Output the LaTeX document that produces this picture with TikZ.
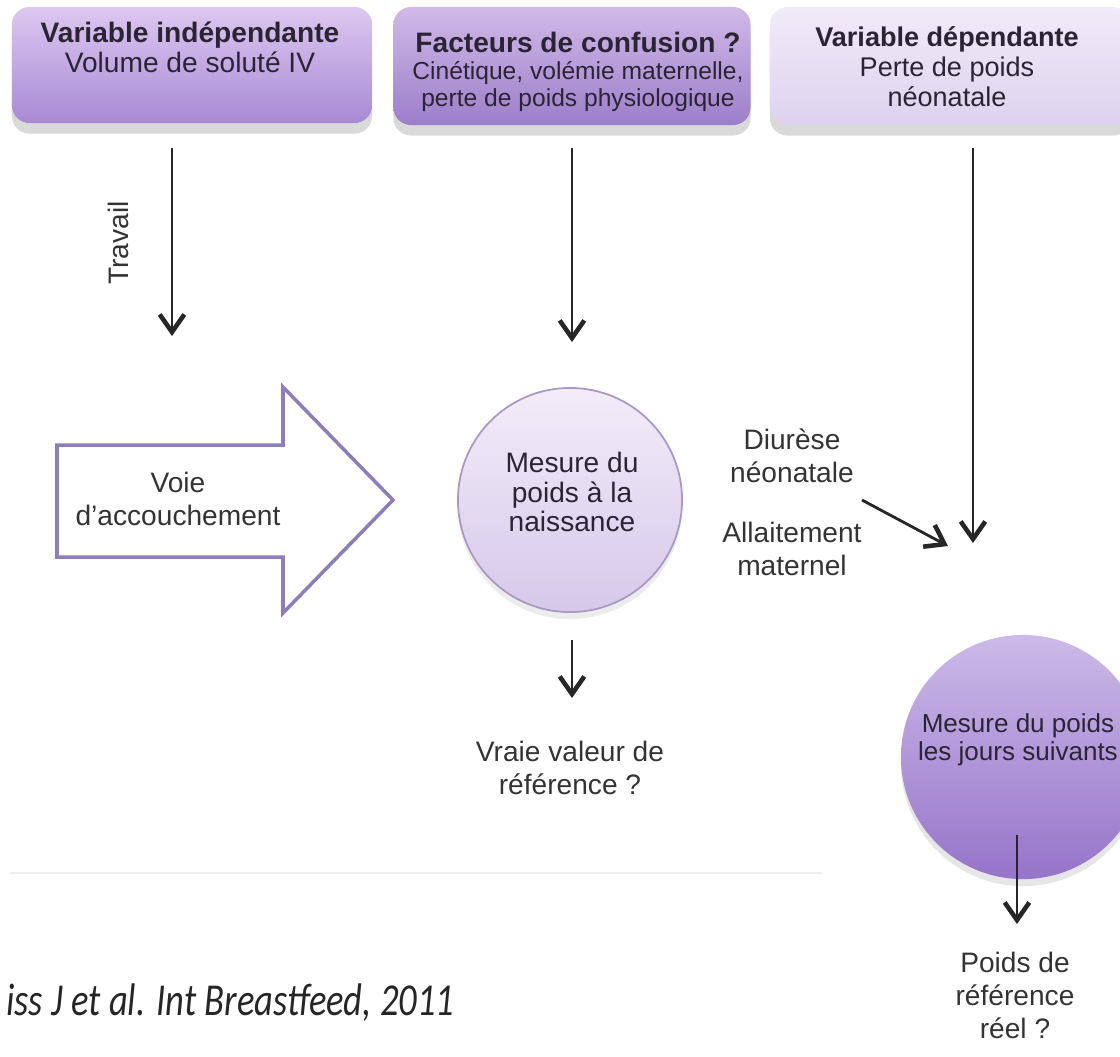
\documentclass[tikz,border=0pt]{standalone}
\usepackage{fontspec}
\setmainfont{Liberation Sans}
\newfontfamily\citefont{Carlito}
\usepackage{tikz}
\usetikzlibrary{arrows.meta,shadows}

\definecolor{indeptop}{RGB}{220,200,240}
\definecolor{indepbot}{RGB}{168,138,212}
\definecolor{conftop}{RGB}{208,186,232}
\definecolor{confbot}{RGB}{156,126,202}
\definecolor{deptop}{RGB}{240,235,248}
\definecolor{depbot}{RGB}{222,210,238}
\definecolor{voieline}{RGB}{140,126,186}
\definecolor{naisstop}{RGB}{242,237,249}
\definecolor{naissbot}{RGB}{214,200,234}
\definecolor{naissline}{RGB}{170,152,196}
\definecolor{suivtop}{RGB}{204,186,232}
\definecolor{suivbot}{RGB}{150,116,202}
\definecolor{inktext}{RGB}{44,36,52}

\begin{document}
\begin{tikzpicture}[x=0.01cm,y=-0.01cm,
  box/.style={rounded corners=5pt,minimum width=3.6cm,minimum height=1.16cm,
    drop shadow={shadow xshift=0pt,shadow yshift=-3pt,opacity=0.3}},
  txt/.style={align=center,text=inktext,font=\fontsize{8}{8.5}\selectfont},
  lbl/.style={align=center,text=black!80,font=\fontsize{8}{9.4}\selectfont},
  arr/.style={-{Straight Barb[length=5pt,width=7pt,line width=1.3pt]},line width=0.8pt,black!85}]
\useasboundingbox (0,0) rectangle (1120,1056);
\clip (0,0) rectangle (1120,1056);

\node[box,top color=indeptop,bottom color=indepbot] (indep) at (192,65) {};
\node[box,top color=conftop,bottom color=confbot,minimum width=3.57cm,minimum height=1.18cm] (conf) at (572,66) {};
\node[box,top color=deptop,bottom color=depbot,minimum height=1.18cm] (dep) at (950,66) {};
\node[txt] (indeptxt) at (190,47) {\textbf{Variable indépendante}\\Volume de soluté IV};
\node[txt,font=\fontsize{7}{7.6}\selectfont] (conftxt) at (578,72) {{\fontsize{8}{8.5}\selectfont\textbf{Facteurs de confusion ?}}\\Cinétique, volémie maternelle,\\perte de poids physiologique};
\node[txt,font=\fontsize{7.7}{8.5}\selectfont] (deptxt) at (947,67) {\textbf{Variable dépendante}\\Perte de poids\\néonatale};

\coordinate (a1s) at (172,148); \coordinate (a1e) at (172,336);
\coordinate (a2s) at (572,148); \coordinate (a2e) at (572,342);
\coordinate (a3s) at (973,148); \coordinate (a3e) at (973,543);
\coordinate (a4s) at (862,500); \coordinate (a4e) at (948,546);
\draw[arr] (a1s) -- (a1e);
\draw[arr] (a2s) -- (a2e);
\draw[arr] (a3s) -- (a3e);
\draw[arr] (a4s) -- (a4e);
\node[lbl,rotate=90] (travail) at (118,243) {Travail};

\draw[draw=voieline,fill=white,line width=1pt,line join=miter]
  (57,445) -- (283,445) -- (283,387) -- (393,500) -- (283,613) -- (283,557) -- (57,557) -- cycle;
\node[lbl] (voie) at (178,499) {Voie\\d'accouchement};

\node[circle,minimum size=2.24cm,draw=naissline,line width=0.5pt,top color=naisstop,bottom color=naissbot,
  drop shadow={shadow xshift=0pt,shadow yshift=-2pt,opacity=0.15}] (naiss) at (570,500) {};
\node[txt] (naisstxt) at (572,492) {Mesure du\\poids à la\\naissance};
\coordinate (a5s) at (572,640); \coordinate (a5e) at (572,698);
\draw[arr] (a5s) -- (a5e);
\node[lbl] (vraie) at (570,768) {Vraie valeur de\\référence ?};

\node[lbl] (diurese) at (792,456) {Diurèse\\néonatale};
\node[lbl] (allait) at (792,549) {Allaitement\\maternel};

\node[circle,minimum size=2.44cm,top color=suivtop,bottom color=suivbot,
  drop shadow={shadow xshift=0pt,shadow yshift=-2pt,opacity=0.2}] (suiv) at (1023,757) {};
\node[txt,font=\fontsize{7.4}{8}\selectfont] (suivtxt) at (1018,740) {Mesure du poids\\les jours suivants};
\coordinate (a6s) at (1017,835); \coordinate (a6e) at (1017,924);
\draw[arr] (a6s) -- (a6e);
\node[lbl] (poidsref) at (1015,995) {Poids de\\référence\\réel ?};

\draw[black!6,line width=0.6pt] (10,873) -- (821,873);
\node[anchor=west,inner sep=1pt,text=black!85,font=\citefont\itshape\fontsize{13}{15}\selectfont] (cite) at (2,1003)
  {\scalebox{0.8}[1]{iss J et al. Int Breastfeed, 2011}};
\end{tikzpicture}
\end{document}
